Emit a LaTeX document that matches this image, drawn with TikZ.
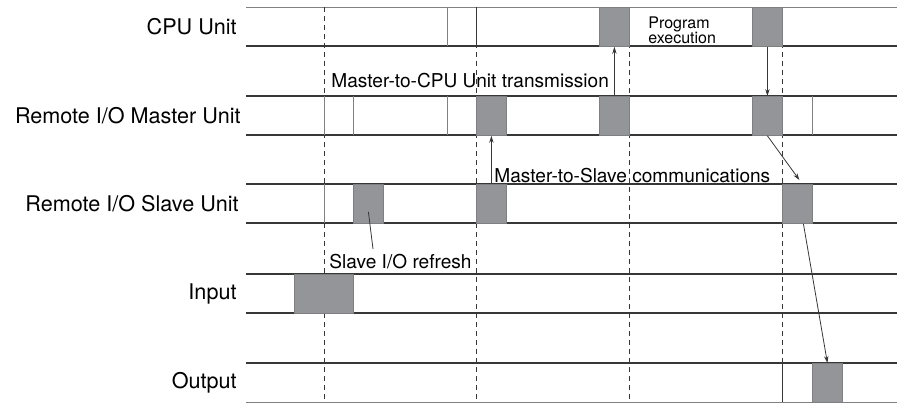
\documentclass[tikz,border=0pt]{standalone}
\usepackage{fontspec}
\setmainfont{TeX Gyre Heros}
\usetikzlibrary{arrows.meta, positioning}
\definecolor{pulsegray}{RGB}{148,149,152}
\definecolor{linegray}{RGB}{55,55,55}
\tikzstyle{pulse} = [rectangle, fill=pulsegray, draw=pulsegray!85!black, line width=0.4pt, minimum width=15pt, minimum height=19.5pt, inner sep=0pt, anchor=north west]
\tikzstyle{rowline} = [linegray, line width=0.6pt]
\tikzstyle{edgeline} = [gray, line width=0.5pt]
\tikzstyle{scanline} = [linegray, dash pattern=on 2.5pt off 2pt, line width=0.4pt]
\tikzstyle{arrow} = [linegray, line width=0.4pt, -{Stealth[length=3.5pt,width=2.2pt]}]
\tikzstyle{unitlabel} = [anchor=east, inner sep=0pt, font=\fontsize{10.8}{12}\selectfont]
\tikzstyle{notelabel} = [anchor=base west, inner sep=0pt, font=\fontsize{9.55}{11}\selectfont]

\begin{document}
\begin{tikzpicture}[x=0.5pt, y=-0.5pt]
    \useasboundingbox (0,0) rectangle (897,403);

    % rows
    \foreach \rowtop in {96, 184, 274, 363} {
        \draw [rowline] (246,\rowtop) -- (897,\rowtop);
    }
    \foreach \rowbot in {46, 135, 223, 313} {
        \draw [rowline] (246,\rowbot) -- (897,\rowbot);
    }
    \draw [edgeline] (246,7) -- (897,7);
    \draw [edgeline] (246,402) -- (897,402);

    \node (cpu) [unitlabel] at (237,27) {CPU Unit};
    \node (master) [unitlabel] at (241,116) {Remote I/O Master Unit};
    \node (slave) [unitlabel] at (239,204) {Remote I/O Slave Unit};
    \node (input) [unitlabel] at (237,294) {Input};
    \node (output) [unitlabel] at (237,383) {Output};

    % cycle boundaries
    \foreach \x in {324, 476, 629, 782} {
        \draw [scanline] (\x,7) -- (\x,402);
    }

    % pulses
    \node (cpuA) [pulse] at (599,7) {};
    \node (cpuB) [pulse] at (752,7) {};
    \node (mA) [pulse] at (476,96) {};
    \node (mB) [pulse] at (599,96) {};
    \node (mC) [pulse] at (752,96) {};
    \node (sA) [pulse] at (353,184) {};
    \node (sB) [pulse] at (476,184) {};
    \node (sC) [pulse] at (782,184) {};
    \node (in) [pulse, minimum width=29.5pt] at (294,274) {};
    \node (out) [pulse] at (812,363) {};

    % edges
    \draw [edgeline] (447,7) -- (447,46);
    \draw [linegray, line width=0.4pt] (476,7) -- (476,46);
    \foreach \x in {324, 353, 447, 812} {
        \draw [edgeline] (\x,96) -- (\x,135);
    }
    \draw [edgeline] (324,184) -- (324,223);
    \draw [linegray, line width=0.4pt] (782,363) -- (782,402);

    % labels
    \node (tocpu) [notelabel] at (331,87) {Master-to-CPU Unit transmission};
    \node (toslave) [notelabel] at (494,182) {Master-to-Slave communications};
    \node (refresh) [notelabel] at (329,268) {Slave I/O refresh};
    \node (exec) [anchor=north west, inner sep=0pt, align=left, font=\fontsize{8}{7.5}\selectfont] at (648,16) {Program\\execution};
    \coordinate (refreshtip) at (373,249);

    \draw [arrow] (mB.north) -- (cpuA.south);
    \draw [arrow] (cpuB.south) -- (mC.north);
    \draw [arrow] (sB.north) -- (mA.south);
    \draw [arrow] (mC.south) -- ([xshift=1pt,yshift=2pt]sC.north);
    \draw [arrow] ([xshift=3pt]sC.south) -- (out.north);
    \draw [linegray, line width=0.4pt] ([yshift=-4pt]sA.center) -- (refreshtip);

\end{tikzpicture}
\end{document}
